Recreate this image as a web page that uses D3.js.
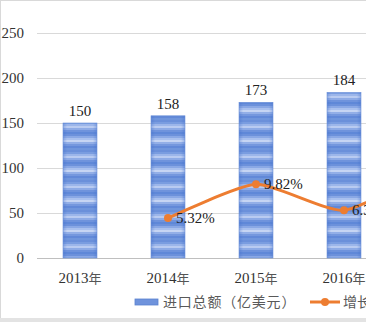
<!DOCTYPE html>
<html>
<head>
<meta charset="utf-8">
<script src="https://cdn.jsdelivr.net/npm/d3@7"></script>
<style>
  body { margin: 0; background: #fff; overflow: hidden; }
  svg { display: block; }
</style>
</head>
<body>
<div class="container"></div>
<script>
// data (2017 is outside the visible crop, estimated)
const years = ["2013年", "2014年", "2015年", "2016年", "2017年"]
const importTotal = [150, 158, 173, 184, 206]
const growthRate = [null, 5.32, 9.82, 6.36, 12.0]
const yTicks = [0, 50, 100, 150, 200, 250]
const legendNames = ["进口总额（亿美元）", "增长率"]

const W = 366, H = 322

const svg = d3.select(".container")
              .append("svg")
              .attr("width", W)
              .attr("height", H)

// stripe texture for bars
const defs = svg.append("defs")
const pat = defs.append("pattern")
                .attr("id", "stripes")
                .attr("patternUnits", "userSpaceOnUse")
                .attr("width", 10)
                .attr("height", 30)
const stripeCols = ["#6b90da", "#7a9de0", "#9cb6ea", "#b9cbf1", "#8eabe6", "#6f93dc", "#5f88d8",
                    "#6c91db", "#8aa8e5", "#a9c0ee", "#c6d5f3", "#93afe7", "#7598de", "#6289d8", "#7096dc"]
stripeCols.forEach((c, i) => {
    pat.append("rect").attr("x", 0).attr("y", i * 2).attr("width", 10).attr("height", 2).attr("fill", c)
})
const edge = defs.append("linearGradient").attr("id", "edge")
edge.append("stop").attr("offset", "0%").attr("stop-color", "#3f6cc8").attr("stop-opacity", 0.35)
edge.append("stop").attr("offset", "12%").attr("stop-color", "#3f6cc8").attr("stop-opacity", 0)
edge.append("stop").attr("offset", "88%").attr("stop-color", "#3f6cc8").attr("stop-opacity", 0)
edge.append("stop").attr("offset", "100%").attr("stop-color", "#3f6cc8").attr("stop-opacity", 0.35)

// frame
svg.append("rect").attr("x", 0.5).attr("y", 0.5).attr("width", W + 10).attr("height", 318)
   .attr("fill", "none").attr("stroke", "#d9d9d9")
svg.append("rect").attr("x", 0).attr("y", 318).attr("width", W).attr("height", 4).attr("fill", "#e3e3e3")

const x = d3.scaleBand().domain(years).range([36, 476]).padding(0)
const y = d3.scaleLinear().domain([0, 250]).range([258, 33])
const y2 = d3.scaleLinear().domain([0, 30]).range([258, 33])
const barW = x.bandwidth() * 0.386
const cx = d => x(d) + x.bandwidth() / 2
const inView = years.filter(d => cx(d) < W)

// gridlines
svg.append("g").selectAll("line")
   .data(yTicks)
   .enter()
   .append("line")
   .attr("x1", 37).attr("x2", W)
   .attr("y1", d => Math.round(y(d)) + 0.5)
   .attr("y2", d => Math.round(y(d)) + 0.5)
   .attr("stroke", d => d === 0 ? "#bfbfbf" : "#d9d9d9")
   .attr("stroke-width", 1)

// y labels
svg.append("g").selectAll("text")
   .data(yTicks)
   .enter()
   .append("text")
   .attr("x", 24)
   .attr("y", d => y(d) + 5)
   .attr("text-anchor", "end")
   .style("font-family", "'Liberation Serif', serif")
   .style("font-size", "15px")
   .attr("fill", "#333")
   .text(d => d)

// bars
const bars = svg.append("g").selectAll("g")
   .data(years)
   .enter()
   .append("g")
bars.append("rect")
   .attr("x", d => cx(d) - barW / 2)
   .attr("y", (d, i) => y(importTotal[i]))
   .attr("width", barW)
   .attr("height", (d, i) => y(0) - y(importTotal[i]))
   .attr("fill", "url(#stripes)")
bars.append("rect")
   .attr("x", d => cx(d) - barW / 2)
   .attr("y", (d, i) => y(importTotal[i]))
   .attr("width", barW)
   .attr("height", (d, i) => y(0) - y(importTotal[i]))
   .attr("fill", "url(#edge)")
   .attr("stroke", "#6a8fd8")
   .attr("stroke-width", 0.6)

// bar labels
svg.append("g").selectAll("text")
   .data(inView)
   .enter()
   .append("text")
   .attr("x", d => cx(d))
   .attr("y", d => y(importTotal[years.indexOf(d)]) - 7)
   .attr("text-anchor", "middle")
   .style("font-family", "'Liberation Serif', serif")
   .style("font-size", "15px")
   .attr("fill", "#222")
   .text(d => importTotal[years.indexOf(d)])

// x labels
const xl = svg.append("g").selectAll("text")
   .data(inView)
   .enter()
   .append("text")
   .attr("x", d => cx(d))
   .attr("y", 283)
   .attr("text-anchor", "middle")
   .attr("fill", "#333")
xl.append("tspan")
  .style("font-family", "'Liberation Serif', serif")
  .style("font-size", "15px")
  .text(d => d.slice(0, 4))
xl.append("tspan")
  .style("font-family", "'Noto Sans CJK SC', sans-serif")
  .style("font-size", "13px")
  .attr("fill", "#555")
  .text("年")

// growth line
const pts = years.map((d, i) => ({ d, v: growthRate[i] })).filter(p => p.v !== null)
const line = d3.line()
               .x(p => cx(p.d))
               .y(p => y2(p.v))
               .curve(d3.curveCardinal.tension(0.4))
svg.append("path")
   .datum(pts)
   .attr("d", line)
   .attr("fill", "none")
   .attr("stroke", "#ed7d31")
   .attr("stroke-width", 3)

svg.append("g").selectAll("circle")
   .data(pts)
   .enter()
   .append("circle")
   .attr("cx", p => cx(p.d))
   .attr("cy", p => y2(p.v))
   .attr("r", 4)
   .attr("fill", "#ed7d31")

svg.append("g").selectAll("text")
   .data(pts.filter(p => cx(p.d) < W))
   .enter()
   .append("text")
   .attr("x", p => cx(p.d) + 8)
   .attr("y", p => y2(p.v) + 5)
   .style("font-family", "'Liberation Serif', serif")
   .style("font-size", "15px")
   .attr("fill", "#222")
   .text(p => p.v.toFixed(2) + "%")

// legend
const lg = svg.append("g")
lg.append("rect")
  .attr("x", 135).attr("y", 299).attr("width", 23).attr("height", 6)
  .attr("fill", "#6f93dc").attr("stroke", "#5b82d0").attr("stroke-width", 0.8)
lg.append("text")
  .attr("x", 163).attr("y", 307)
  .style("font-family", "'Noto Sans CJK SC', sans-serif")
  .style("font-size", "14px")
  .style("letter-spacing", "0.8px")
  .attr("fill", "#595959")
  .text(legendNames[0])
lg.append("line")
  .attr("x1", 310).attr("x2", 340).attr("y1", 302).attr("y2", 302)
  .attr("stroke", "#ed7d31").attr("stroke-width", 3)
lg.append("circle")
  .attr("cx", 325).attr("cy", 302).attr("r", 4).attr("fill", "#ed7d31")
lg.append("text")
  .attr("x", 343).attr("y", 307)
  .style("font-family", "'Noto Sans CJK SC', sans-serif")
  .style("font-size", "14px")
  .attr("fill", "#595959")
  .text(legendNames[1])
</script>
</body>
</html>
